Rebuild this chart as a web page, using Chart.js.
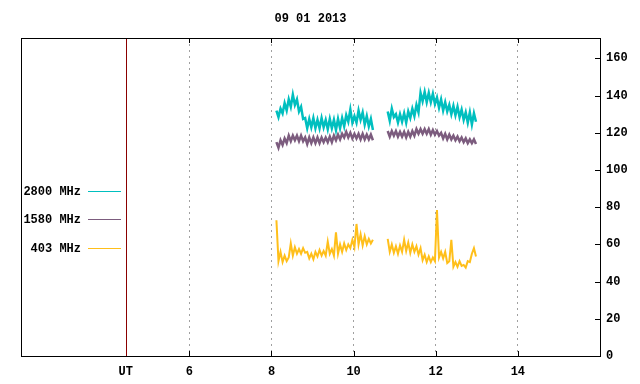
<!DOCTYPE html>
<html>
<head>
<meta charset="utf-8">
<script src="https://cdn.jsdelivr.net/npm/chart.js@4/dist/chart.umd.min.js"></script>
<style>
body{margin:0;background:#fff}
</style>
</head>
<body>
<canvas id="myChart" width="640" height="384"></canvas>
<script>
// two recording segments, one sample every 0.05 h
const seg1Start = 8.12
const seg2Start = 10.83
const step = 0.05
const utPos = 4.45
const xTicks = [utPos, 6, 8, 10, 12, 14]
const yTicks = [0, 20, 40, 60, 80, 100, 120, 140, 160]
const chartTitle = '09 01 2013'

const labels = ['2800 MHz', '1580 MHz', '403 MHz']
const colors = ['#00bfbf', '#7c5c7e', '#ffbf1a']

const cyan1 = [132,128.5,133,130.5,136,132,138,134,140.5,135,138,131.5,134,127.5,128,122.5,127.5,123,128,122.5,127,122.5,128,123,127,122,127.5,122.5,127,121.5,127.5,122.5,128,123.5,129.5,126,132.5,125.5,129,125.5,132,127,131,124.5,129,123.5,127.5,121.5]
const cyan2 = [131.5,126.5,133,128.5,130,125.5,130,126,130.5,125.5,131.5,128,133,129,135,131,141.5,137,142,136.5,141.5,136.5,141,135.5,139,133.5,138,132,136.5,131.5,135,130,134.5,129.5,134,128.5,132.5,127,131,125.5,131,124.5,130.5,126]

const purple1 = [115,112,116,113.5,117,114.5,118.5,115.5,118.5,116,118.5,115.5,118.5,115.5,117.5,114,117.5,114.5,117.5,114.5,117.5,114.5,117.5,115,117.5,115,118,115,118.5,116,119,116.5,119.5,117.5,120.5,117.5,120,117,119.5,117,119.5,116.5,119.5,116.5,119,116.5,119,116]
const purple2 = [121,118,121,118.5,121,118,120.5,118,120.5,117.5,120.5,118,121,118.5,122,119.5,122,119.5,122,119.5,122,119,121.5,119,121,118.5,120,117,119.5,116.5,119,116.5,118.5,116,118,115.5,117.5,115,117,114.5,116.5,114.5,116.5,114]

const yellow1 = [73,51,56,50.5,54,51,53,60.5,54,58.5,55,57.5,55,58,55.5,56,52.5,55,52,56,53.5,57,54,56.5,54,61.5,55,57.5,54,66.5,55,60,56,60.5,57,60,58,62.5,58.5,71,60,65.5,59.5,64.5,60,63,60.5,62.5]
const yellow2 = [63,56,60,55.5,59,55,59.5,56,62.5,56.5,61,55.5,60,56,59,54.5,58,51.5,54.5,50.5,53.5,50.5,53,51,78.5,53,56,52.5,56,50,51,62.5,48,50.5,48,51,48.5,49,47.5,51,50.5,55,58,53.5]

function toPoints(a, b) {
  const pts = []
  a.forEach((v, i) => pts.push({x: seg1Start + i * step, y: v}))
  pts.push({x: (seg1Start + a.length * step + seg2Start) / 2, y: null})
  b.forEach((v, i) => pts.push({x: seg2Start + i * step, y: v}))
  return pts
}

const font = '"Liberation Mono", "DejaVu Sans Mono", monospace'

const extras = {
  id: 'extras',
  beforeDatasetsDraw(chart) {
    const ctx = chart.ctx
    const a = chart.chartArea
    const x = chart.scales.x.getPixelForValue(utPos)
    ctx.save()
    ctx.strokeStyle = '#8b0000'
    ctx.lineWidth = 1
    ctx.beginPath()
    ctx.moveTo(Math.round(x) + 0.5, a.top)
    ctx.lineTo(Math.round(x) + 0.5, a.bottom)
    ctx.stroke()
    ctx.restore()
  },
  afterDraw(chart) {
    const ctx = chart.ctx
    const a = chart.chartArea
    ctx.save()
    // frame
    ctx.strokeStyle = '#000'
    ctx.lineWidth = 1
    ctx.strokeRect(Math.round(a.left) + 0.5, Math.round(a.top) + 0.5, Math.round(a.right - a.left), Math.round(a.bottom - a.top))
    // inside tick marks
    ctx.beginPath()
    xTicks.slice(1).forEach(v => {
      const px = Math.round(chart.scales.x.getPixelForValue(v)) + 0.5
      ctx.moveTo(px, a.bottom); ctx.lineTo(px, a.bottom - 5)
      ctx.moveTo(px, a.top); ctx.lineTo(px, a.top + 5)
    })
    yTicks.forEach(v => {
      const py = Math.round(chart.scales.y.getPixelForValue(v)) + 0.5
      ctx.moveTo(a.right, py); ctx.lineTo(a.right - 5, py)
    })
    ctx.stroke()
    // title
    ctx.fillStyle = '#000'
    ctx.font = 'bold 12px ' + font
    ctx.textAlign = 'center'
    ctx.textBaseline = 'middle'
    ctx.fillText(chartTitle, (a.left + a.right) / 2, 19)
    // legend
    const ly = [191, 219, 248]
    labels.forEach((t, i) => {
      ctx.textAlign = 'right'
      ctx.fillStyle = '#000'
      ctx.fillText(t, 81, ly[i] + 1)
      ctx.strokeStyle = colors[i]
      ctx.beginPath()
      ctx.moveTo(88, ly[i] + 0.5)
      ctx.lineTo(121, ly[i] + 0.5)
      ctx.stroke()
    })
    ctx.restore()
  }
}

const ctx = document.getElementById('myChart').getContext('2d')
new Chart(ctx, {
  type: 'line',
  data: {
    datasets: [
      {label: labels[2], data: toPoints(yellow1, yellow2), borderColor: colors[2], borderWidth: 2},
      {label: labels[1], data: toPoints(purple1, purple2), borderColor: colors[1], borderWidth: 2.5},
      {label: labels[0], data: toPoints(cyan1, cyan2), borderColor: colors[0], borderWidth: 2.5}
    ].map(d => Object.assign(d, {pointRadius: 0, tension: 0, fill: false, spanGaps: false}))
  },
  options: {
    responsive: false,
    animation: false,
    layout: {padding: {top: 38, left: 21, right: 0, bottom: 0}},
    plugins: {legend: {display: false}, tooltip: {enabled: false}},
    scales: {
      x: {
        type: 'linear',
        min: 1.9,
        max: 16,
        afterBuildTicks: s => { s.ticks = xTicks.map(v => ({value: v})) },
        afterFit: s => { s.height = 28 },
        ticks: {
          callback: v => v === utPos ? 'UT' : v,
          font: {family: font, size: 12, weight: 'bold'},
          color: '#000',
          padding: 9,
          maxRotation: 0,
          autoSkip: false
        },
        grid: {
          drawTicks: false,
          color: c => (c.tick && c.tick.value === utPos) ? 'rgba(0,0,0,0)' : '#a0a0a0',
          lineWidth: 1
        },
        border: {display: false, dash: [2, 4]}
      },
      y: {
        position: 'right',
        min: 0,
        max: 171,
        afterBuildTicks: s => { s.ticks = yTicks.map(v => ({value: v})) },
        afterFit: s => { s.width = 40 },
        ticks: {
          font: {family: font, size: 12, weight: 'bold'},
          color: '#000',
          padding: 6
        },
        grid: {display: false, drawTicks: false},
        border: {display: false}
      }
    }
  },
  plugins: [extras]
})
</script>
</body>
</html>
